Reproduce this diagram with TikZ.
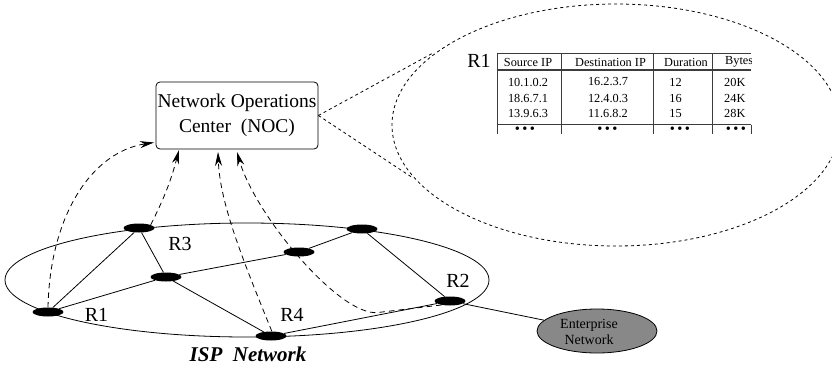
\documentclass[tikz,border=0pt]{standalone}
\usepackage{fontspec}
\setmainfont{Liberation Serif}
\usetikzlibrary{arrows.meta,calc,shapes.geometric}
\definecolor{entgray}{RGB}{136,136,136}
\definecolor{gridcol}{RGB}{60,60,60}
\begin{document}
\begin{tikzpicture}[x=1pt,y=-1pt,
  router/.style={ellipse,fill=black,inner sep=0pt,minimum width=31pt,minimum height=9pt},
  link/.style={line width=0.8pt},
  rlabel/.style={font=\fontsize{20}{24}\selectfont,inner sep=0pt},
  report/.style={line width=0.8pt,dash pattern=on 5.5pt off 4pt,
    -{Stealth[length=14pt,width=7pt,inset=4.5pt]}},
  zoomline/.style={line width=0.8pt,dash pattern=on 3pt off 3pt},
  cell/.style={font=\fontsize{12.3}{14}\selectfont,inner sep=0pt},
  dots/.style={font=\fontsize{14.5}{16}\selectfont,inner sep=0pt},
  gridthin/.style={line width=1pt,draw=gridcol},
  gridbold/.style={line width=1.6pt,draw=gridcol}
]
\useasboundingbox (0,0) rectangle (832,367);

% ISP network outline
\draw[link] (247,280) ellipse [x radius=242pt, y radius=57pt];

% routers
\node[router] (r1) at (48,312) {};
\node[router] (r3) at (139,228) {};
\node[router] (ra) at (362,229) {};
\node[router] (rb) at (299,252) {};
\node[router] (rc) at (166,277) {};
\node[router] (r4) at (271,336) {};
\node[router] (r2) at (450,301) {};

% enterprise network
\node[ellipse,draw,fill=entgray,line width=0.8pt,minimum width=120pt,
      minimum height=44pt,inner sep=0pt] (ent) at (597,331) {};
\node[font=\fontsize{14}{15.5}\selectfont,align=center,inner sep=0pt]
      (entlabel) at (589,332) {Enterprise\\Network};

% links
\draw[link] (r1) -- (r3);
\draw[link] (r1) -- (rc);
\draw[link] (r3) -- (rc);
\draw[link] (rc) -- (rb);
\draw[link] (rc) -- (r4);
\draw[link] (rb) -- (ra);
\draw[link] (ra) -- (r2);
\draw[link] (r4) -- (r2);
\draw[link] (r2) -- (ent);

% router labels
\node[rlabel] (l3) at (180,243.5) {R3};
\node[rlabel] (l1) at (96.5,315) {R1};
\node[rlabel] (l4) at (292,315) {R4};
\node[rlabel] (l2) at (458,280.5) {R2};
\node[font=\fontsize{21}{24}\selectfont\bfseries\itshape,inner sep=0pt]
      (isp) at (248,354.5) {ISP~~Network};

% operations center
\node[draw,rounded corners=4pt,line width=0.8pt,minimum width=162pt,
      minimum height=67pt,inner sep=0pt,align=center,
      font=\fontsize{19.5}{25}\selectfont] (noc) at (237,115.5)
      {Network Operations\\Center~~(NOC)};

% reports sent to the operations center
\coordinate (tip1) at (154,142.5);
\coordinate (tip2) at (179,150);
\coordinate (tip3) at (218,152);
\coordinate (tip4) at (237,152);
\draw[report] (r1.north) .. controls (50,215) and (92,152) .. (tip1);
\draw[report] (r3.15) to[bend right=6] (tip2);
\draw[report] (r4.80) .. controls (245,265) and (220,205) .. (tip3);
\draw[report] (r2.205) -- (378,312.5) .. controls (340,317) and (255,215) .. (tip4);

% magnified flow record
\draw[zoomline] (616,125) ellipse [x radius=224pt, y radius=121pt];
\coordinate (zt) at (433,53);
\coordinate (zb) at (413,178);
\draw[zoomline] (noc.east) -- (zt);
\draw[zoomline] (noc.east) -- (zb);

\node[rlabel] (rt) at (479,60.5) {R1};

% table grid
\draw[gridthin] (496.5,53.5) -- (751,53.5);
\draw[gridbold] (496.5,70) -- (751,70);
\draw[gridbold] (496.5,124.5) -- (751,124.5);
\foreach \cx in {497,561,653,712}
  \draw[gridthin] (\cx,53.5) -- (\cx,134);
\draw[gridthin] (751,124.5) -- (751,134);

% table contents
\begin{scope}
\clip (490,45) rectangle (751.5,140);
\node[cell] (h1) at (528,62) {Source IP};
\node[cell] (h2) at (610.5,62) {Destination IP};
\node[cell] (h3) at (686,62) {Duration};
\node[cell,anchor=west] (h4) at (725,62) {Bytes};

\node[cell] (a1) at (528,82) {10.1.0.2};
\node[cell] (a2) at (608,82) {16.2.3.7};
\node[cell] (a3) at (675.5,82) {12};
\node[cell,anchor=west] (a4) at (724,82) {20K};

\node[cell] (b1) at (528,98) {18.6.7.1};
\node[cell] (b2) at (608,98) {12.4.0.3};
\node[cell] (b3) at (675.5,98) {16};
\node[cell,anchor=west] (b4) at (724,98) {24K};

\node[cell] (c1) at (528,113.5) {13.9.6.3};
\node[cell] (c2) at (608,113.5) {11.6.8.2};
\node[cell] (c3) at (675.5,113.5) {15};
\node[cell,anchor=west] (c4) at (724,113.5) {28K};

\node[dots] (d1) at (525,130.5) {•\,•\,•};
\node[dots] (d2) at (607.5,130.5) {•\,•\,•};
\node[dots] (d3) at (680,130.5) {•\,•\,•};
\node[dots] (d4) at (736,130.5) {•\,•\,•};
\end{scope}
\end{tikzpicture}
\end{document}
